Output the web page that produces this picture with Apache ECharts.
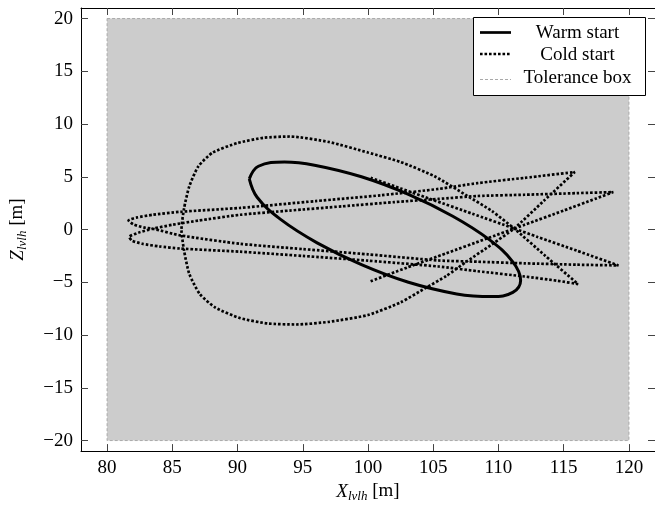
<!DOCTYPE html>
<html>
<head>
<meta charset="utf-8">
<script src="https://cdn.jsdelivr.net/npm/echarts@6/dist/echarts.min.js"></script>
<style>
  html, body { margin: 0; padding: 0; background: #fff; }
  #chart { width: 655px; height: 508px; }
</style>
</head>
<body>
<div id="chart"></div>
<script>
// tolerance box corners [m]
const boxX = [80, 120];
const boxZ = [-20, 20];

// warm start trajectory (closed ellipse)
const warmX = [90.9, 91.5, 93.3, 96.1, 99.5, 103.1, 106.8, 109.5, 111.1, 111.7, 111.1, 109.3, 106.5, 103.1, 99.5, 95.9, 93.6, 91.6, 90.9];
const warmZ = [4.8, 3.06, 0.96, -1.26, -3.33, -5.0, -6.1, -6.35, -5.96, -4.8, -3.06, -0.96, 1.26, 3.33, 5.0, 6.1, 6.4, 6.0, 4.8];

// cold start trajectory
const coldX = [
  100.2, 103, 106, 109, 112, 115, 117.5, 118.8,
  116, 112, 108.4, 105.4, 102, 98, 94, 90.2, 87, 85, 83.5, 82.4, 81.7, 81.9, 82.7, 84, 85.6, 90.2, 95, 100, 105.4, 108.4, 112, 114.5, 116.1,
  113.6, 111.2, 109.5, 107.6, 105.1, 102.5, 100, 97, 94, 92, 90, 88.1, 87, 86.3, 85.9, 85.7, 85.9, 86.3, 87.1, 88.3, 90.2, 92.3, 94.5, 97, 100, 102.5, 104.4, 106, 107.6, 109.5, 111.2, 113.5, 115.85,
  112, 108.4, 105.4, 101, 96, 90.2, 85.6, 83.5, 82.3, 81.64, 82.0, 82.8, 83.5, 85.6, 90.2, 95, 100, 105.4, 108.4, 112, 116, 119.2,
  116, 113, 111.2, 108, 105, 102.5, 100.2
];
const coldZ = [
  -4.9, -3.6, -2.25, -0.9, 0.45, 1.8, 2.95, 3.55,
  3.45, 3.3, 3.18, 2.9, 2.6, 2.2, 1.8, 1.4, 0.85, 0.45, 0.08, -0.3, -0.7, -1.05, -1.35, -1.6, -1.8, -2.1, -2.5, -2.95, -3.5, -3.95, -4.45, -4.85, -5.17,
  -2.5, 0.1, 1.75, 3.2, 5.05, 6.4, 7.3, 8.3, 8.82, 8.7, 8.2, 7.3, 6.0, 4.1, 2.0, 0.0, -2.0, -4.2, -6.1, -7.4, -8.4, -8.9, -9.0, -8.75, -8.1, -6.9, -5.55, -4.4, -3.0, -1.4, 0.1, 2.75, 5.45,
  4.9, 4.4, 3.85, 3.25, 2.7, 2.05, 1.68, 1.4, 1.15, 0.86, 0.5, 0.2, 0.08, -0.55, -1.35, -1.85, -2.35, -2.93, -3.05, -3.2, -3.33, -3.4,
  -2.0, -0.7, 0.1, 1.5, 2.8, 3.9, 4.9
];

const xTicks = [80, 85, 90, 95, 100, 105, 110, 115, 120];
const zTicks = [-20, -15, -10, -5, 0, 5, 10, 15, 20];

const FONT = '"Liberation Serif", "Times New Roman", serif';
const pairs = (xs, ys) => xs.map((x, i) => [x, ys[i]]);
const fmt = (v) => (v < 0 ? '\u2212' + Math.abs(v) : String(v));

const frameLine = { onZero: false, lineStyle: { color: '#000', width: 1 } };
const tickStyle = { inside: true, length: 7, lineStyle: { color: '#444', width: 1 } };
const nameRich = {
  v: { fontFamily: FONT, fontSize: 19, fontStyle: 'italic', color: '#000' },
  s: { fontFamily: FONT, fontSize: 13, fontStyle: 'italic', color: '#000', padding: [10, 0, 0, 0] },
  t: { fontFamily: FONT, fontSize: 19, color: '#000' }
};

const chart = echarts.init(document.getElementById('chart'));

const legendFont = '19px ' + FONT;

const option = {
  animation: false,
  backgroundColor: '#fff',
  grid: { left: 80, top: 8, width: 579, height: 446 },
  xAxis: [
    {
      type: 'value', min: 78, max: 122, position: 'bottom',
      axisLine: frameLine,
      axisTick: Object.assign({ customValues: xTicks }, tickStyle),
      axisLabel: { customValues: xTicks, fontFamily: FONT, fontSize: 19, color: '#000', margin: 7 },
      splitLine: { show: false },
      name: '{v|X}{s|lvlh}{t| [m]}', nameLocation: 'middle', nameGap: 28,
      nameTextStyle: { rich: nameRich }
    },
    {
      type: 'value', min: 78, max: 122, position: 'top',
      axisLine: frameLine,
      axisTick: Object.assign({ customValues: xTicks }, tickStyle),
      axisLabel: { show: false },
      splitLine: { show: false }
    }
  ],
  yAxis: [
    {
      type: 'value', min: -21, max: 21, position: 'left',
      axisLine: frameLine,
      axisTick: Object.assign({ customValues: zTicks }, tickStyle),
      axisLabel: { customValues: zTicks, fontFamily: FONT, fontSize: 19, color: '#000', margin: 8, formatter: fmt },
      splitLine: { show: false },
      name: '{v|Z}{s|lvlh}{t| [m]}', nameLocation: 'middle', nameGap: 52, nameRotate: 90,
      nameTextStyle: { rich: nameRich }
    },
    {
      type: 'value', min: -21, max: 21, position: 'right',
      axisLine: frameLine,
      axisTick: Object.assign({ customValues: zTicks }, tickStyle),
      axisLabel: { show: false },
      splitLine: { show: false }
    }
  ],
  series: [
    {
      name: 'Tolerance box',
      type: 'custom',
      data: [[boxX[0], boxZ[0], boxX[1], boxZ[1]]],
      encode: { x: [0, 2], y: [1, 3] },
      renderItem(params, api) {
        const p0 = api.coord([api.value(0), api.value(1)]);
        const p1 = api.coord([api.value(2), api.value(3)]);
        return {
          type: 'rect',
          shape: { x: p0[0], y: p1[1], width: p1[0] - p0[0], height: p0[1] - p1[1] },
          style: { fill: '#cccccc', stroke: '#a9a9a9', lineWidth: 1, lineDash: [3, 2] }
        };
      },
      z: 1
    },
    {
      name: 'Cold start',
      type: 'line',
      data: pairs(coldX, coldZ),
      showSymbol: false,
      smooth: 0.2,
      lineStyle: { color: '#000', width: 2.7, type: [2.6, 1.9], cap: 'butt' },
      z: 3
    },
    {
      name: 'Warm start',
      type: 'line',
      data: pairs(warmX, warmZ),
      showSymbol: false,
      smooth: 0.4,
      lineStyle: { color: '#000', width: 3 },
      z: 4
    }
  ],
  graphic: [
    { type: 'rect', z: 100, shape: { x: 473.5, y: 17.5, width: 172, height: 78 }, style: { fill: '#fff', stroke: '#000', lineWidth: 1 } },
    { type: 'line', z: 101, shape: { x1: 480, y1: 32.5, x2: 511, y2: 32.5 }, style: { stroke: '#000', lineWidth: 2.7 } },
    { type: 'line', z: 101, shape: { x1: 480, y1: 54, x2: 511, y2: 54 }, style: { stroke: '#000', lineWidth: 2.7, lineDash: [2.6, 1.9] } },
    { type: 'line', z: 101, shape: { x1: 480, y1: 79.5, x2: 511, y2: 79.5 }, style: { stroke: '#a9a9a9', lineWidth: 1, lineDash: [3, 2] } },
    { type: 'text', z: 101, x: 577.5, y: 33, style: { text: 'Warm start', font: legendFont, fill: '#000', align: 'center', verticalAlign: 'middle' } },
    { type: 'text', z: 101, x: 577.5, y: 55, style: { text: 'Cold start', font: legendFont, fill: '#000', align: 'center', verticalAlign: 'middle' } },
    { type: 'text', z: 101, x: 577.5, y: 78, style: { text: 'Tolerance box', font: legendFont, fill: '#000', align: 'center', verticalAlign: 'middle' } }
  ]
};

chart.setOption(option);
</script>
</body>
</html>
